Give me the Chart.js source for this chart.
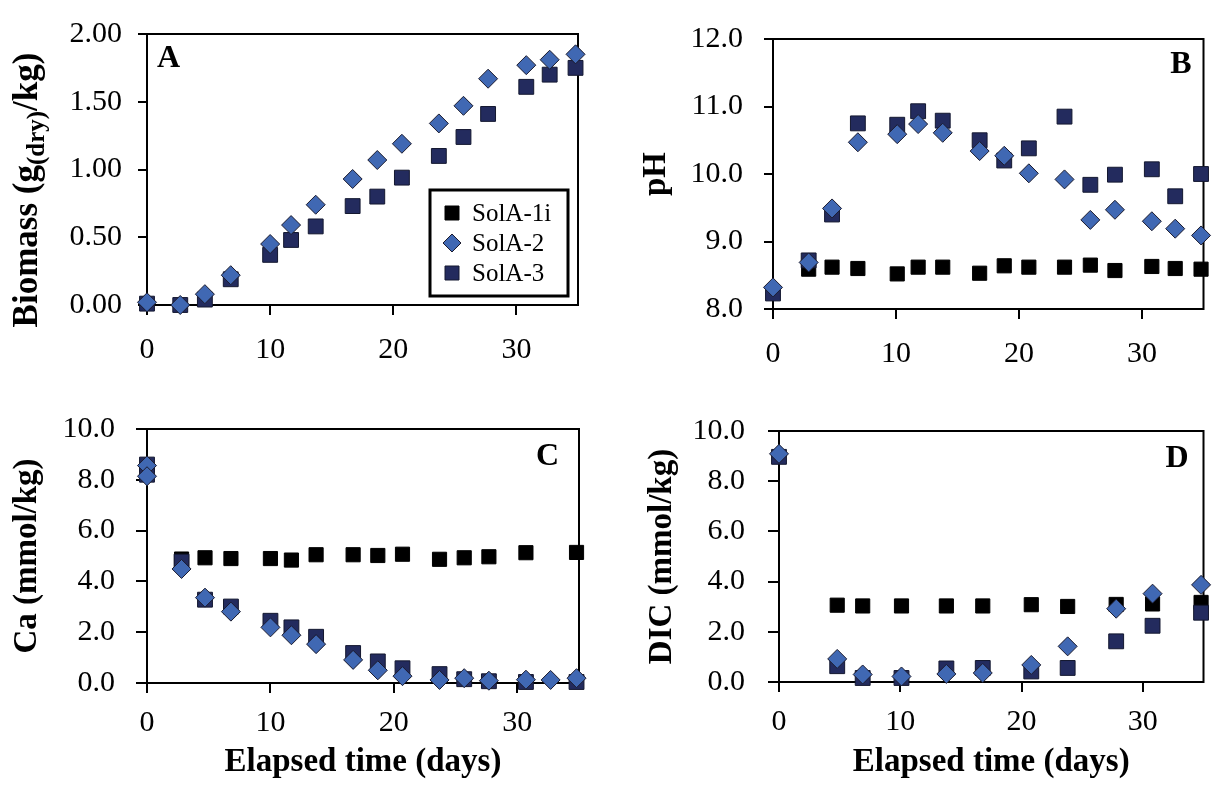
<!DOCTYPE html>
<html>
<head>
<meta charset="utf-8">
<script src="https://cdn.jsdelivr.net/npm/chart.js@4.4.1/dist/chart.umd.min.js"></script>
<style>
  body { margin: 0; background: #fff; }
  #wrap { position: relative; width: 1215px; height: 787px; overflow: hidden; }
  canvas { position: absolute; }
</style>
</head>
<body>
<div id="wrap">
  <canvas id="chartA" width="607" height="390" style="left:0;top:0"></canvas>
  <canvas id="chartB" width="608" height="390" style="left:607px;top:0"></canvas>
  <canvas id="chartC" width="607" height="397" style="left:0;top:390px"></canvas>
  <canvas id="chartD" width="608" height="397" style="left:607px;top:390px"></canvas>
</div>
<script>
// series names
const seriesNames = ["SolA-1i", "SolA-2", "SolA-3"];

// A - biomass
const biomassDays = [0, 2.7, 4.7, 6.8, 10, 11.7, 13.7, 16.7, 18.7, 20.7, 23.7, 25.7, 27.7, 30.8, 32.7, 34.8];
const biomassSolA1i = [];
const biomassSolA2 = [0.02, 0.0, 0.08, 0.22, 0.45, 0.59, 0.74, 0.93, 1.07, 1.19, 1.34, 1.47, 1.67, 1.77, 1.81, 1.85];
const biomassSolA3 = [0.01, 0.0, 0.04, 0.19, 0.37, 0.48, 0.58, 0.73, 0.8, 0.94, 1.1, 1.24, 1.41, 1.61, 1.7, 1.75];

// B - pH
const phDays = [0, 2.9, 4.8, 6.9, 10.1, 11.8, 13.8, 16.8, 18.8, 20.8, 23.7, 25.8, 27.8, 30.8, 32.7, 34.8];
const phSolA1i = [null, 8.59, 8.62, 8.6, 8.52, 8.62, 8.62, 8.53, 8.64, 8.62, 8.62, 8.65, 8.57, 8.63, 8.6, 8.59];
const phSolA2 = [8.32, 8.69, 9.49, 10.47, 10.59, 10.74, 10.61, 10.34, 10.27, 10.01, 9.92, 9.32, 9.47, 9.3, 9.19, 9.09];
const phSolA3 = [8.23, 8.72, 9.4, 10.75, 10.73, 10.93, 10.79, 10.5, 10.2, 10.38, 10.85, 9.84, 9.99, 10.07, 9.67, 10.0];

// C - Ca
const caDays = [0, 0, 2.8, 4.7, 6.8, 10, 11.7, 13.7, 16.7, 18.7, 20.7, 23.7, 25.7, 27.7, 30.7, 32.7, 34.8];
const caSolA1i = [null, null, 4.88, 4.93, 4.9, 4.9, 4.84, 5.05, 5.05, 5.02, 5.07, 4.87, 4.93, 4.97, 5.13, null, 5.14];
const caSolA2 = [8.56, 8.14, 4.49, 3.36, 2.81, 2.19, 1.88, 1.53, 0.91, 0.5, 0.27, 0.12, 0.19, 0.09, 0.13, 0.12, 0.19];
const caSolA3 = [8.6, 8.2, 4.78, 3.28, 3.01, 2.45, 2.19, 1.82, 1.18, 0.85, 0.58, 0.35, 0.15, 0.07, 0.04, null, 0.04];

// D - DIC
const dicDays = [0, 4.8, 6.9, 10.1, 13.8, 16.8, 20.8, 23.8, 27.8, 30.8, 34.8];
const dicSolA1i = [null, 3.06, 3.03, 3.03, 3.03, 3.03, 3.08, 3.01, 3.09, 3.11, 3.17];
const dicSolA2 = [9.09, 0.92, 0.3, 0.22, 0.32, 0.36, 0.68, 1.42, 2.92, 3.52, 3.87];
const dicSolA3 = [8.97, 0.63, 0.16, 0.16, 0.54, 0.56, 0.42, 0.56, 1.62, 2.24, 2.76];

const serif = "'Liberation Serif', 'Times New Roman', serif";
const black = "#000000";
const blue = "#4068b3";
const navy = "#232b5e";

Chart.defaults.font.family = serif;
Chart.defaults.color = "#000";

function points(days, values) {
  return days
    .map((d, i) => ({ x: d, y: values[i] }))
    .filter((p) => p.y !== null && p.y !== undefined);
}

function makeDatasets(days, s1, s2, s3) {
  return [
    {
      label: seriesNames[0],
      data: points(days, s1),
      pointStyle: "rect",
      pointRadius: 10,
      backgroundColor: black,
      borderColor: black,
      borderWidth: 1,
      clip: false,
      order: 3,
    },
    {
      label: seriesNames[1],
      data: points(days, s2),
      pointStyle: "rectRot",
      pointRadius: 9.5,
      backgroundColor: blue,
      borderColor: "#1b1b2e",
      borderWidth: 1,
      clip: false,
      order: 1,
    },
    {
      label: seriesNames[2],
      data: points(days, s3),
      pointStyle: "rect",
      pointRadius: 10.5,
      backgroundColor: navy,
      borderColor: "#141830",
      borderWidth: 1,
      clip: false,
      order: 2,
    },
  ];
}

// box round the plot + panel letter
const framePlugin = {
  id: "frame",
  beforeDatasetsDraw(chart) {
    const { ctx, chartArea: a } = chart;
    ctx.save();
    ctx.strokeStyle = "#000";
    ctx.lineWidth = 2;
    ctx.strokeRect(a.left, a.top, a.right - a.left, a.bottom - a.top);
    ctx.restore();
  },
  afterDraw(chart, args, opts) {
    const { ctx, chartArea: a } = chart;
    ctx.save();
    ctx.font = "bold 32px " + serif;
    ctx.fillStyle = "#000";
    ctx.textBaseline = "alphabetic";
    ctx.textAlign = opts.align;
    const x = opts.align === "left" ? a.left + opts.dx : a.right - opts.dx;
    ctx.fillText(opts.letter, x, a.top + opts.dy);
    ctx.restore();
  },
};

// legend box inside panel A
const legendBox = {
  id: "legendBox",
  afterDraw(chart) {
    const { ctx, chartArea: a } = chart;
    const left = a.right - 148, top = a.bottom - 115, w = 138, h = 106;
    ctx.save();
    ctx.fillStyle = "#fff";
    ctx.fillRect(left, top, w, h);
    ctx.strokeStyle = "#000";
    ctx.lineWidth = 3;
    ctx.strokeRect(left, top, w, h);
    ctx.font = "25px " + serif;
    ctx.textBaseline = "middle";
    ctx.textAlign = "left";
    chart.data.datasets.forEach((ds, i) => {
      const cy = top + 23 + i * 30;
      const cx = left + 22;
      ctx.fillStyle = ds.backgroundColor;
      ctx.strokeStyle = ds.borderColor;
      ctx.lineWidth = 1;
      ctx.beginPath();
      if (ds.pointStyle === "rectRot") {
        ctx.moveTo(cx - 9, cy);
        ctx.lineTo(cx, cy - 9);
        ctx.lineTo(cx + 9, cy);
        ctx.lineTo(cx, cy + 9);
        ctx.closePath();
      } else {
        ctx.rect(cx - 7, cy - 7, 14, 14);
      }
      ctx.fill();
      ctx.stroke();
      ctx.fillStyle = "#000";
      ctx.fillText(ds.label, left + 42, cy + 1);
    });
    ctx.restore();
  },
};

// y title of panel A, with subscript
const biomassTitle = {
  id: "biomassTitle",
  afterDraw(chart) {
    const ctx = chart.ctx;
    const main = "bold 35px " + serif;
    const sub = "bold 25px " + serif;
    const parts = [["Biomass (g", main, 0], ["(dry)", sub, 10], ["/kg)", main, 0]];
    ctx.save();
    let total = 0;
    parts.forEach((p) => { ctx.font = p[1]; total += ctx.measureText(p[0]).width; });
    ctx.translate(28, 190);
    ctx.rotate(-Math.PI / 2);
    ctx.fillStyle = "#000";
    ctx.textBaseline = "middle";
    ctx.textAlign = "left";
    let x = -total / 2;
    parts.forEach((p) => {
      ctx.font = p[1];
      ctx.fillText(p[0], x, p[2]);
      x += ctx.measureText(p[0]).width;
    });
    ctx.restore();
  },
};

function makePanel(id, o) {
  return new Chart(document.getElementById(id), {
    type: "scatter",
    data: { datasets: makeDatasets(o.days, o.s1, o.s2, o.s3) },
    options: {
      responsive: false,
      animation: false,
      events: [],
      layout: { padding: { top: o.top, right: o.right, left: 0, bottom: 0 } },
      plugins: {
        legend: { display: false },
        tooltip: { enabled: false },
        frame: { letter: o.letter, align: o.letterAlign, dx: o.letterDx, dy: o.letterDy },
      },
      scales: {
        x: {
          type: "linear",
          min: 0,
          max: 35,
          ticks: {
            stepSize: 10,
            includeBounds: false,
            padding: o.xPad,
            maxRotation: 0,
            color: "#000",
            font: { size: 30 },
          },
          grid: { display: true, drawOnChartArea: false, tickLength: 10, color: "#000", lineWidth: 2 },
          border: { display: false },
          title: {
            display: o.xTitle,
            text: "Elapsed time (days)",
            color: "#000",
            font: { size: 33, weight: "bold" },
            padding: { top: 0, bottom: 5 },
          },
          afterFit: (s) => { s.height = o.xh; },
        },
        y: {
          type: "linear",
          min: o.ymin,
          max: o.ymax,
          ticks: {
            stepSize: o.step,
            padding: o.yPad,
            color: "#000",
            font: { size: 30 },
            callback: (v) => v.toFixed(o.dec),
          },
          grid: { display: true, drawOnChartArea: false, tickLength: o.yTick, color: "#000", lineWidth: 2 },
          border: { display: false },
          title: {
            display: !!o.yTitle,
            text: o.yTitle,
            color: "#000",
            font: { size: 33, weight: "bold" },
            padding: { top: o.yTitlePad, bottom: 0 },
          },
          afterFit: (s) => { s.width = o.yw; },
        },
      },
    },
    plugins: o.plugins,
  });
}

makePanel("chartA", {
  days: biomassDays, s1: biomassSolA1i, s2: biomassSolA2, s3: biomassSolA3,
  top: 20, right: 29, yw: 147, xh: 85,
  ymin: 0, ymax: 2, step: 0.5, dec: 2,
  yPad: 16, yTick: 9, xPad: 17, xTitle: false,
  yTitle: "", yTitlePad: 0,
  letter: "A", letterAlign: "left", letterDx: 10, letterDy: 33,
  plugins: [framePlugin, legendBox, biomassTitle],
});

makePanel("chartB", {
  days: phDays, s1: phSolA1i, s2: phSolA2, s3: phSolA3,
  top: 23, right: 7, yw: 166, xh: 81,
  ymin: 8, ymax: 12, step: 1, dec: 1,
  yPad: 21, yTick: 9, xPad: 17, xTitle: false,
  yTitle: "pH", yTitlePad: 30,
  letter: "B", letterAlign: "right", letterDx: 12, letterDy: 34,
  plugins: [framePlugin],
});

makePanel("chartC", {
  days: caDays, s1: caSolA1i, s2: caSolA2, s3: caSolA3,
  top: 7, right: 28, yw: 147, xh: 104,
  ymin: 0, ymax: 10, step: 2, dec: 1,
  yPad: 21, yTick: 11, xPad: 12, xTitle: true,
  yTitle: "Ca (mmol/kg)", yTitlePad: 8,
  letter: "C", letterAlign: "right", letterDx: 20, letterDy: 36,
  plugins: [framePlugin],
});

makePanel("chartD", {
  days: dicDays, s1: dicSolA1i, s2: dicSolA2, s3: dicSolA3,
  top: 7, right: 4, yw: 172, xh: 105,
  ymin: 0, ymax: 10, step: 2, dec: 1,
  yPad: 23, yTick: 11, xPad: 12, xTitle: true,
  yTitle: "DIC (mmol/kg)", yTitlePad: 36,
  letter: "D", letterAlign: "right", letterDx: 15, letterDy: 36,
  plugins: [framePlugin],
});
</script>
</body>
</html>
